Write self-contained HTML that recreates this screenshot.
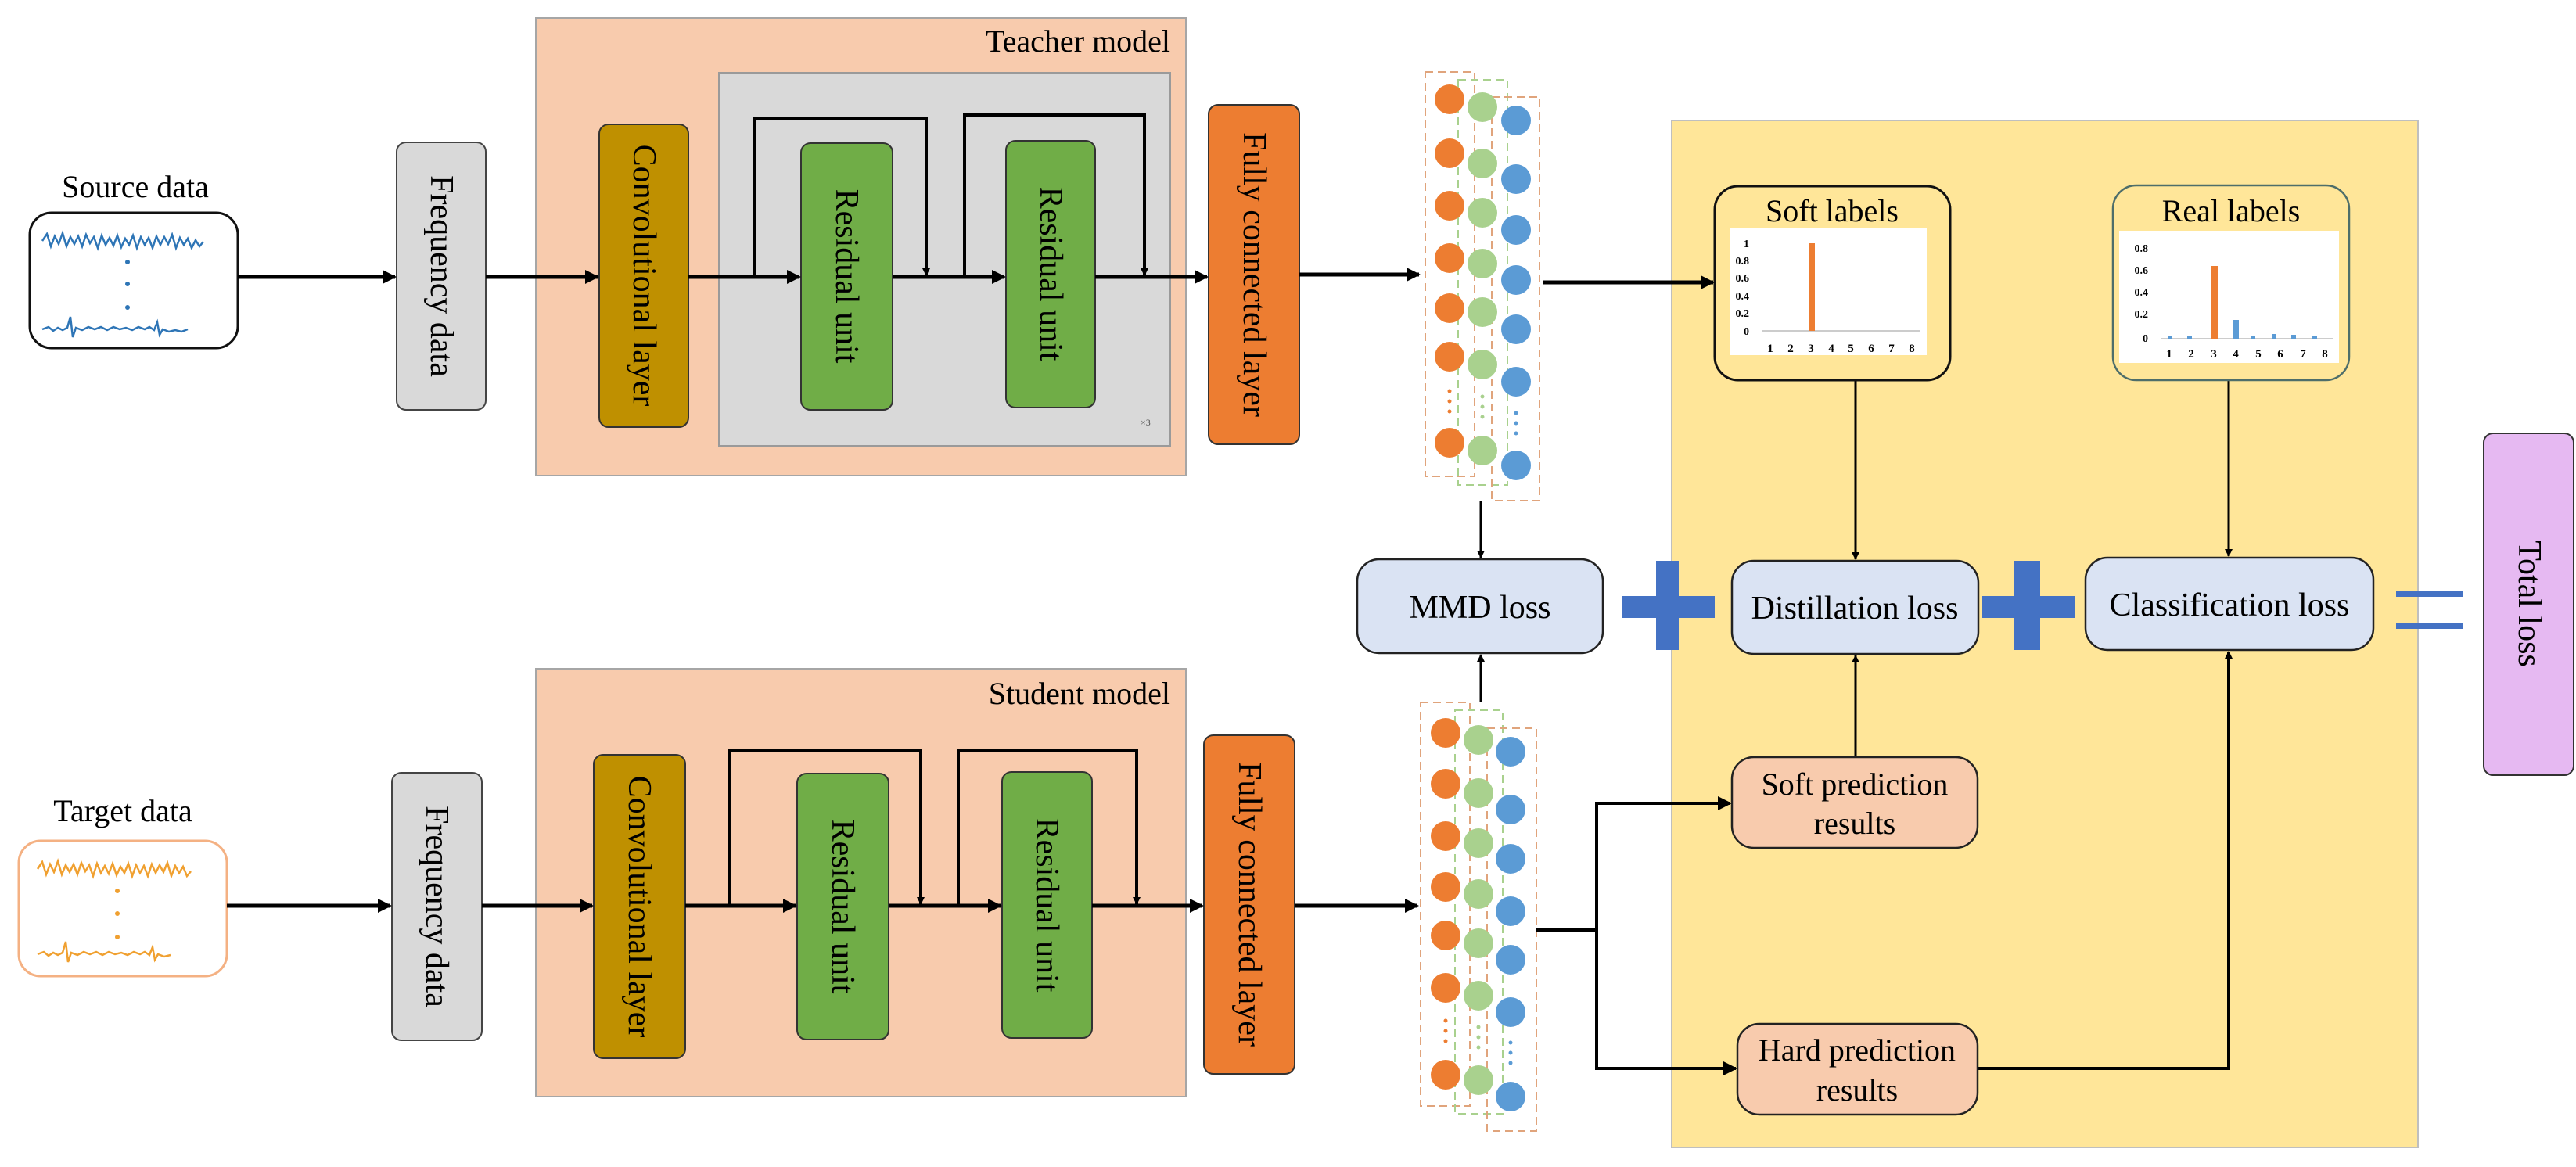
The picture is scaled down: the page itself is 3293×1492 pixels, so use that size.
<!DOCTYPE html>
<html><head><meta charset="utf-8"><style>
html,body{margin:0;padding:0;background:#fff;}
svg{display:block;font-family:"Liberation Serif",serif;}
</style></head><body>
<svg width="3293" height="1492" viewBox="0 0 3293 1492" xmlns="http://www.w3.org/2000/svg">
<defs>
<marker id="a" markerWidth="10" markerHeight="10" refX="9" refY="5" orient="auto" markerUnits="userSpaceOnUse" viewBox="0 0 10 10"><path d="M0,0 L10,5 L0,10 z" fill="#000"/></marker>
<marker id="b" markerWidth="18" markerHeight="18" refX="16" refY="9" orient="auto" markerUnits="userSpaceOnUse" viewBox="0 0 18 18"><path d="M0,0 L18,9 L0,18 z" fill="#000"/></marker>
</defs>

<!-- Source data -->
<text x="173" y="252" font-size="40" text-anchor="middle">Source data</text>
<rect x="38" y="272" width="266" height="173" rx="28" fill="#fff" stroke="#111" stroke-width="3"/>
<path d="M54,308 l6,-9 l5,16 l5,-13 l5,10 l5,-14 l5,17 l5,-12 l5,9 l5,-10 l5,13 l5,-15 l5,11 l5,-8 l5,14 l5,-16 l5,12 l5,-9 l5,10 l5,-13 l5,15 l5,-11 l5,8 l5,-12 l5,16 l5,-14 l5,10 l5,-9 l5,13 l5,-15 l5,11 l5,-10 l5,9 l5,-12 l5,17 l5,-13 l5,9 l5,-8 l5,12 l5,-10 l5,8 l5,-6" fill="none" stroke="#2e75b6" stroke-width="2.5"/>
<path d="M54,421 l8,-3 l6,5 l6,-4 l6,3 l6,-3 l4,-14 l3,26 l4,-12 l8,3 l8,-4 l8,3 l8,-3 l8,4 l8,-4 l8,3 l8,-2 l8,3 l8,-4 l8,3 l6,-3 l6,4 l4,-10 l3,16 l4,-7 l8,3 l8,-2 l8,2 l8,-3" fill="none" stroke="#2e75b6" stroke-width="2.5"/>
<circle cx="163" cy="335" r="3" fill="#2e75b6"/><circle cx="163" cy="363" r="3" fill="#2e75b6"/><circle cx="163" cy="393" r="3" fill="#2e75b6"/>

<!-- Target data -->
<text x="157" y="1050" font-size="40" text-anchor="middle">Target data</text>
<rect x="24" y="1075" width="266" height="173" rx="28" fill="#fff" stroke="#f4b183" stroke-width="3"/>
<path d="M48,1111 l6,-9 l5,16 l5,-13 l5,10 l5,-14 l5,17 l5,-12 l5,9 l5,-10 l5,13 l5,-15 l5,11 l5,-8 l5,14 l5,-16 l5,12 l5,-9 l5,10 l5,-13 l5,15 l5,-11 l5,8 l5,-12 l5,16 l5,-14 l5,10 l5,-9 l5,13 l5,-15 l5,11 l5,-10 l5,9 l5,-12 l5,17 l5,-13 l5,9 l5,-8 l5,12 l5,-6" fill="none" stroke="#f0a030" stroke-width="2.5"/>
<path d="M48,1220 l8,-3 l6,5 l6,-4 l6,3 l6,-3 l4,-14 l3,26 l4,-12 l8,3 l8,-4 l8,3 l8,-3 l8,4 l8,-4 l8,3 l8,-2 l8,3 l8,-4 l8,3 l6,-3 l6,4 l4,-10 l3,16 l4,-7 l8,3 l8,-2" fill="none" stroke="#f0a030" stroke-width="2.5"/>
<circle cx="150" cy="1139" r="3" fill="#f0a030"/><circle cx="150" cy="1168" r="3" fill="#f0a030"/><circle cx="150" cy="1198" r="3" fill="#f0a030"/>

<!-- Teacher model -->
<rect x="685" y="23" width="831" height="585" fill="#f8cbad" stroke="#a6a6a6" stroke-width="2"/>
<text x="1496" y="66" font-size="40" text-anchor="end">Teacher model</text>
<rect x="919" y="93" width="577" height="477" fill="#d9d9d9" stroke="#9a9a9a" stroke-width="2"/>
<text x="1458" y="544" font-size="12" fill="#555">×3</text>

<!-- Student model -->
<rect x="685" y="855" width="831" height="547" fill="#f8cbad" stroke="#a6a6a6" stroke-width="2"/>
<text x="1496" y="900" font-size="40" text-anchor="end">Student model</text>

<!-- Teacher blocks -->
<rect x="507" y="182" width="114" height="342" rx="12" fill="#d9d9d9" stroke="#444" stroke-width="2"/>
<text transform="translate(564,353) rotate(90)" font-size="42" text-anchor="middle" dominant-baseline="central">Frequency data</text>
<rect x="766" y="159" width="114" height="387" rx="12" fill="#bf9000" stroke="#333" stroke-width="2"/>
<text transform="translate(823,352) rotate(90)" font-size="42" text-anchor="middle" dominant-baseline="central">Convolutional layer</text>
<rect x="1024" y="183" width="117" height="341" rx="12" fill="#70ad47" stroke="#333" stroke-width="2"/>
<text transform="translate(1082,353) rotate(90)" font-size="42" text-anchor="middle" dominant-baseline="central">Residual unit</text>
<rect x="1286" y="180" width="114" height="341" rx="12" fill="#70ad47" stroke="#333" stroke-width="2"/>
<text transform="translate(1343,350) rotate(90)" font-size="42" text-anchor="middle" dominant-baseline="central">Residual unit</text>
<rect x="1545" y="134" width="116" height="434" rx="12" fill="#ed7d31" stroke="#333" stroke-width="2"/>
<text transform="translate(1603,351) rotate(90)" font-size="42" text-anchor="middle" dominant-baseline="central">Fully connected layer</text>

<!-- Student blocks -->
<rect x="501" y="988" width="115" height="342" rx="12" fill="#d9d9d9" stroke="#444" stroke-width="2"/>
<text transform="translate(558,1159) rotate(90)" font-size="42" text-anchor="middle" dominant-baseline="central">Frequency data</text>
<rect x="759" y="965" width="117" height="388" rx="12" fill="#bf9000" stroke="#333" stroke-width="2"/>
<text transform="translate(817,1159) rotate(90)" font-size="42" text-anchor="middle" dominant-baseline="central">Convolutional layer</text>
<rect x="1019" y="989" width="117" height="340" rx="12" fill="#70ad47" stroke="#333" stroke-width="2"/>
<text transform="translate(1077,1159) rotate(90)" font-size="42" text-anchor="middle" dominant-baseline="central">Residual unit</text>
<rect x="1281" y="987" width="115" height="340" rx="12" fill="#70ad47" stroke="#333" stroke-width="2"/>
<text transform="translate(1338,1157) rotate(90)" font-size="42" text-anchor="middle" dominant-baseline="central">Residual unit</text>
<rect x="1539" y="940" width="116" height="433" rx="12" fill="#ed7d31" stroke="#333" stroke-width="2"/>
<text transform="translate(1597,1156) rotate(90)" font-size="42" text-anchor="middle" dominant-baseline="central">Fully connected layer</text>

<!-- Teacher connectors -->
<g stroke="#000" stroke-width="5" fill="none">
<line x1="304" y1="354" x2="505" y2="354" marker-end="url(#b)"/>
<line x1="621" y1="354" x2="764" y2="354" marker-end="url(#b)"/>
<line x1="880" y1="354" x2="1022" y2="354" marker-end="url(#b)"/>
<line x1="1141" y1="354" x2="1284" y2="354" marker-end="url(#b)"/>
<line x1="1400" y1="354" x2="1543" y2="354" marker-end="url(#b)"/>
<line x1="1661" y1="351" x2="1814" y2="351" marker-end="url(#b)"/>
<line x1="1973" y1="361" x2="2190" y2="361" marker-end="url(#b)"/>
<line x1="2493" y1="361" x2="2699" y2="361" marker-end="url(#b)"/>
</g>
<g stroke="#000" stroke-width="4" fill="none">
<polyline points="965,354 965,151 1184,151 1184,352" marker-end="url(#a)"/>
<polyline points="1233,354 1233,147 1463,147 1463,352" marker-end="url(#a)"/>
</g>

<!-- Student connectors -->
<g stroke="#000" stroke-width="5" fill="none">
<line x1="290" y1="1158" x2="499" y2="1158" marker-end="url(#b)"/>
<line x1="616" y1="1158" x2="757" y2="1158" marker-end="url(#b)"/>
<line x1="876" y1="1158" x2="1017" y2="1158" marker-end="url(#b)"/>
<line x1="1136" y1="1158" x2="1279" y2="1158" marker-end="url(#b)"/>
<line x1="1396" y1="1158" x2="1537" y2="1158" marker-end="url(#b)"/>
<line x1="1655" y1="1158" x2="1812" y2="1158" marker-end="url(#b)"/>
</g>
<g stroke="#000" stroke-width="4" fill="none">
<polyline points="932,1158 932,960 1177,960 1177,1156" marker-end="url(#a)"/>
<polyline points="1225,1158 1225,960 1453,960 1453,1156" marker-end="url(#a)"/>
</g>

<!-- Yellow region -->
<rect x="2137" y="154" width="954" height="1313" fill="#ffe699" stroke="#bfbfbf" stroke-width="2"/>

<!-- re-draw arrow into yellow -->
<line x1="1973" y1="361" x2="2190" y2="361" stroke="#000" stroke-width="5" marker-end="url(#b)"/>

<!-- Teacher neurons -->
<g fill="none" stroke-width="2" stroke-dasharray="10,6">
<rect x="1822" y="92" width="63" height="517" stroke="#e0a47c"/>
<rect x="1864" y="102" width="63" height="518" stroke="#a9d18e"/>
<rect x="1907" y="124" width="61" height="516" stroke="#e0a47c"/>
</g>
<g fill="#ed7d31">
<circle cx="1853" cy="127" r="19"/><circle cx="1853" cy="196" r="19"/><circle cx="1853" cy="263" r="19"/><circle cx="1853" cy="330" r="19"/><circle cx="1853" cy="394" r="19"/><circle cx="1853" cy="456" r="19"/><circle cx="1853" cy="566" r="19"/>
<circle cx="1853" cy="500" r="2.5"/><circle cx="1853" cy="513" r="2.5"/><circle cx="1853" cy="526" r="2.5"/>
</g>
<g fill="#a9d18e">
<circle cx="1895" cy="137" r="19"/><circle cx="1895" cy="209" r="19"/><circle cx="1895" cy="272" r="19"/><circle cx="1895" cy="337" r="19"/><circle cx="1895" cy="399" r="19"/><circle cx="1895" cy="466" r="19"/><circle cx="1895" cy="576" r="19"/>
<circle cx="1895" cy="507" r="2.5"/><circle cx="1895" cy="520" r="2.5"/><circle cx="1895" cy="533" r="2.5"/>
</g>
<g fill="#5b9bd5">
<circle cx="1938" cy="154" r="19"/><circle cx="1938" cy="229" r="19"/><circle cx="1938" cy="294" r="19"/><circle cx="1938" cy="358" r="19"/><circle cx="1938" cy="421" r="19"/><circle cx="1938" cy="488" r="19"/><circle cx="1938" cy="595" r="19"/>
<circle cx="1938" cy="528" r="2.5"/><circle cx="1938" cy="541" r="2.5"/><circle cx="1938" cy="554" r="2.5"/>
</g>

<!-- Student neurons -->
<g fill="none" stroke-width="2" stroke-dasharray="10,6">
<rect x="1816" y="898" width="63" height="516" stroke="#e0a47c"/>
<rect x="1860" y="908" width="61" height="516" stroke="#a9d18e"/>
<rect x="1901" y="931" width="63" height="515" stroke="#e0a47c"/>
</g>
<g fill="#ed7d31">
<circle cx="1848" cy="937" r="19"/><circle cx="1848" cy="1002" r="19"/><circle cx="1848" cy="1069" r="19"/><circle cx="1848" cy="1134" r="19"/><circle cx="1848" cy="1196" r="19"/><circle cx="1848" cy="1263" r="19"/><circle cx="1848" cy="1374" r="19"/>
<circle cx="1848" cy="1305" r="2.5"/><circle cx="1848" cy="1318" r="2.5"/><circle cx="1848" cy="1331" r="2.5"/>
</g>
<g fill="#a9d18e">
<circle cx="1890" cy="946" r="19"/><circle cx="1890" cy="1014" r="19"/><circle cx="1890" cy="1078" r="19"/><circle cx="1890" cy="1143" r="19"/><circle cx="1890" cy="1206" r="19"/><circle cx="1890" cy="1273" r="19"/><circle cx="1890" cy="1381" r="19"/>
<circle cx="1890" cy="1313" r="2.5"/><circle cx="1890" cy="1326" r="2.5"/><circle cx="1890" cy="1339" r="2.5"/>
</g>
<g fill="#5b9bd5">
<circle cx="1931" cy="961" r="19"/><circle cx="1931" cy="1035" r="19"/><circle cx="1931" cy="1098" r="19"/><circle cx="1931" cy="1165" r="19"/><circle cx="1931" cy="1227" r="19"/><circle cx="1931" cy="1294" r="19"/><circle cx="1931" cy="1402" r="19"/>
<circle cx="1931" cy="1333" r="2.5"/><circle cx="1931" cy="1346" r="2.5"/><circle cx="1931" cy="1359" r="2.5"/>
</g>

<!-- Neurons to MMD -->
<g stroke="#000" stroke-width="3" fill="none">
<line x1="1893" y1="640" x2="1893" y2="713" marker-end="url(#a)"/>
<line x1="1893" y1="898" x2="1893" y2="837" marker-end="url(#a)"/>
<line x1="2372" y1="486" x2="2372" y2="715" marker-end="url(#a)"/>
<line x1="2849" y1="486" x2="2849" y2="711" marker-end="url(#a)"/>
<line x1="2372" y1="968" x2="2372" y2="838" marker-end="url(#a)"/>
</g>
<g stroke="#000" stroke-width="4" fill="none">
<polyline points="1964,1189 2041,1189"/>
<polyline points="2041,1366 2041,1027 2212,1027" marker-end="url(#b)"/>
<polyline points="2041,1189 2041,1366 2219,1366" marker-end="url(#b)"/>
<polyline points="2528,1366 2849,1366 2849,833" marker-end="url(#a)"/>
</g>

<!-- Soft labels -->
<rect x="2192" y="238" width="301" height="248" rx="30" fill="#ffe699" stroke="#111" stroke-width="3"/>
<text x="2342" y="283" font-size="40" text-anchor="middle">Soft labels</text>
<rect x="2212" y="292" width="251" height="162" fill="#fff"/>
<g font-size="14" font-weight="bold" text-anchor="end">
<text x="2236" y="316">1</text><text x="2236" y="338">0.8</text><text x="2236" y="360">0.6</text><text x="2236" y="383">0.4</text><text x="2236" y="405">0.2</text><text x="2236" y="428">0</text>
</g>
<line x1="2252" y1="423" x2="2455" y2="423" stroke="#ccc" stroke-width="2"/>
<rect x="2312" y="311" width="8" height="112" fill="#ed7d31"/>
<g font-size="15" font-weight="bold" text-anchor="middle">
<text x="2263" y="450">1</text><text x="2289" y="450">2</text><text x="2315" y="450">3</text><text x="2341" y="450">4</text><text x="2366" y="450">5</text><text x="2392" y="450">6</text><text x="2418" y="450">7</text><text x="2444" y="450">8</text>
</g>

<!-- Real labels -->
<rect x="2701" y="237" width="302" height="249" rx="30" fill="#ffe699" stroke="#4e6e6a" stroke-width="2.5"/>
<text x="2852" y="283" font-size="40" text-anchor="middle">Real labels</text>
<rect x="2709" y="295" width="281" height="169" fill="#fff"/>
<g font-size="14" font-weight="bold" text-anchor="end">
<text x="2746" y="322">0.8</text><text x="2746" y="350">0.6</text><text x="2746" y="378">0.4</text><text x="2746" y="406">0.2</text><text x="2746" y="437">0</text>
</g>
<line x1="2762" y1="433" x2="2983" y2="433" stroke="#ccc" stroke-width="2"/>
<rect x="2827" y="340" width="8" height="93" fill="#ed7d31"/>
<rect x="2854" y="409" width="8" height="24" fill="#5b9bd5"/>
<g fill="#5b9bd5"><rect x="2771" y="429" width="6" height="4"/><rect x="2796" y="430" width="6" height="3"/><rect x="2877" y="429" width="6" height="4"/><rect x="2904" y="427" width="6" height="6"/><rect x="2929" y="428" width="6" height="5"/><rect x="2956" y="430" width="6" height="3"/></g>
<g font-size="15" font-weight="bold" text-anchor="middle">
<text x="2773" y="457">1</text><text x="2801" y="457">2</text><text x="2830" y="457">3</text><text x="2858" y="457">4</text><text x="2887" y="457">5</text><text x="2915" y="457">6</text><text x="2944" y="457">7</text><text x="2972" y="457">8</text>
</g>

<!-- Loss boxes -->
<rect x="1735" y="715" width="314" height="120" rx="28" fill="#dae3f3" stroke="#222" stroke-width="2.5"/>
<text x="1892" y="790" font-size="42" text-anchor="middle">MMD loss</text>
<rect x="2214" y="717" width="315" height="119" rx="28" fill="#dae3f3" stroke="#222" stroke-width="2.5"/>
<text x="2371" y="791" font-size="42" text-anchor="middle">Distillation loss</text>
<rect x="2666" y="713" width="368" height="118" rx="28" fill="#dae3f3" stroke="#222" stroke-width="2.5"/>
<text x="2850" y="787" font-size="42" text-anchor="middle">Classification loss</text>

<!-- Plus signs -->
<g fill="#4472c4">
<rect x="2117" y="717" width="29" height="114"/><rect x="2073" y="762" width="119" height="28"/>
<rect x="2575" y="717" width="33" height="114"/><rect x="2534" y="762" width="118" height="28"/>
<rect x="3063" y="755" width="86" height="8"/><rect x="3063" y="796" width="86" height="8"/>
</g>

<!-- Total loss -->
<rect x="3175" y="554" width="115" height="437" rx="12" fill="#e6b9f2" stroke="#333" stroke-width="2"/>
<text transform="translate(3233,772) rotate(90)" font-size="42" text-anchor="middle" dominant-baseline="central">Total loss</text>

<!-- Prediction boxes -->
<rect x="2214" y="968" width="314" height="116" rx="28" fill="#f8cbad" stroke="#222" stroke-width="2.5"/>
<text x="2371" y="1016" font-size="40" text-anchor="middle">Soft prediction</text>
<text x="2371" y="1066" font-size="40" text-anchor="middle">results</text>
<rect x="2221" y="1309" width="307" height="116" rx="28" fill="#f8cbad" stroke="#222" stroke-width="2.5"/>
<text x="2374" y="1356" font-size="40" text-anchor="middle">Hard prediction</text>
<text x="2374" y="1407" font-size="40" text-anchor="middle">results</text>
</svg>
</body></html>
